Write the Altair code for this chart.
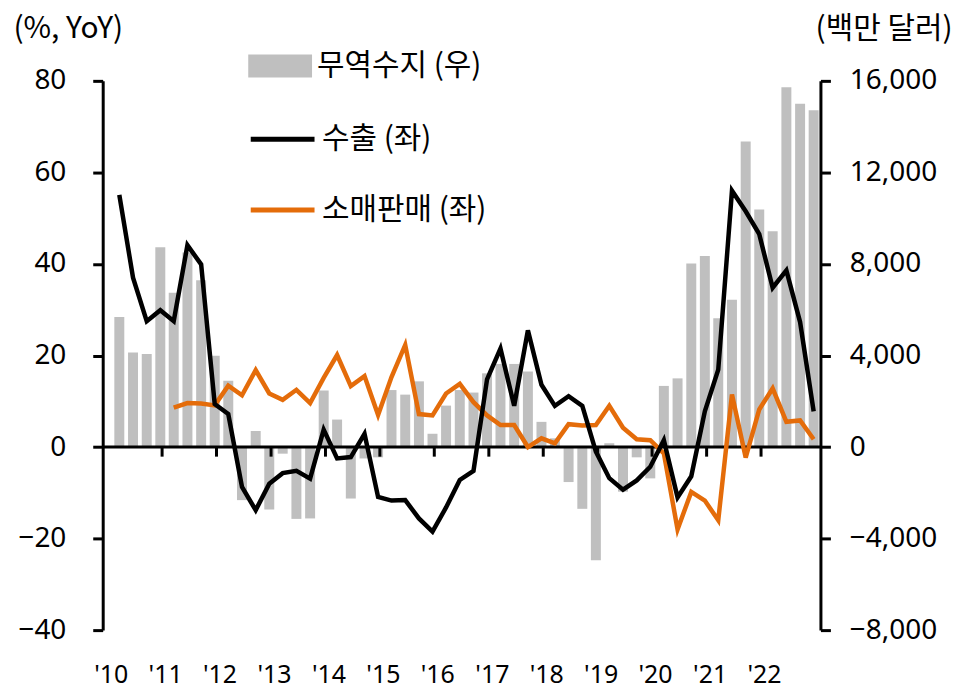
import altair as alt
import pandas as pd

# Quarterly data, 2010Q1 - 2022Q4
quarters = [f"{y}Q{q}" for y in range(2010, 2023) for q in range(1, 5)]

exports = [55.1, 37.0, 27.5, 29.9, 27.5, 44.1, 39.9, 9.4,
           7.2, -8.7, -13.8, -8.0, -5.7, -5.2, -6.9, 3.8,
           -2.5, -2.2, 2.9, -10.9, -11.7, -11.6, -15.6, -18.5,
           -13.2, -7.2, -5.2, 14.8, 21.5, 9.0, 25.5, 13.6,
           9.0, 11.1, 9.0, -1.0, -6.8, -9.3, -7.3, -4.3,
           1.5, -11.0, -6.4, 7.8, 16.9, 56.0, 51.5, 46.5,
           34.8, 38.6, 27.3, 7.8]

retail = [None, None, None, None, 8.6, 9.6, 9.5, 9.1,
          13.4, 11.3, 16.8, 11.7, 10.3, 12.5, 9.6, 15.1,
          20.1, 13.3, 15.5, 7.0, 15.3, 22.3, 7.2, 6.9,
          11.7, 13.8, 9.8, 6.9, 4.8, 4.8, 0.0, 1.9,
          0.8, 5.0, 4.7, 4.8, 9.0, 4.2, 1.7, 1.5,
          -1.4, -18.0, -9.8, -11.7, -16.0, 11.5, -2.3, 8.2,
          12.8, 5.5, 5.8, 1.7]

trade_balance = [5680, 4130, 4060, 8730, 6740, 8500, 7290, 3990,
                 2900, -2320, 700, -2730, -290, -3140, -3120, 2470,
                 1200, -2250, -500, -450, 2490, 2290, 2870, 580,
                 1810, 2490, 2380, 3220, 3630, 3630, 3300, 1100,
                 380, -1530, -2700, -4950, 170, -1950, -450, -1370,
                 2670, 3000, 8020, 8350, 5630, 6430, 13350, 10380,
                 9430, 15720, 15000, 14720]

name_bar = "무역수지 (우)"
name_exp = "수출 (좌)"
name_ret = "소매판매 (좌)"
year_ticks = list(range(2011, 2023))
year_labels = list(range(2010, 2023))

FONT = "Noto Sans CJK KR"
NUM_FONT = "Noto Sans"
GRAY = "#BFBFBF"
ORANGE = "#E46C0A"


def q_date(q):
    y, n = int(q[:4]), int(q[-1])
    return f"{y}-{n * 3:02d}-20"


dates = [q_date(q) for q in quarters]

bar_df = pd.DataFrame({"date": dates, "value": trade_balance, "name": name_bar})
exp_df = pd.DataFrame({"date": dates, "value": exports, "series": name_exp})
ret_df = pd.DataFrame({"date": dates, "value": retail, "series": name_ret}).dropna()
tick_df = pd.DataFrame({"date": [f"{y}-01-01" for y in year_ticks]})
zero_df = pd.DataFrame({"v": [0]})

x_axis = alt.Axis(
    values=[alt.DateTime(year=y, month=1, date=1, utc=True) for y in year_labels],
    labelExpr="\"'\" + utcFormat(datum.value, '%y')",
    domain=False, ticks=False, grid=False,
    labelFont=NUM_FONT, labelFontSize=25, labelColor="black", labelPadding=33,
    labelOffset=3, labelFlush=False, labelOverlap=False, title=None,
)
x_scale = alt.Scale(type="utc",
                    domain=[alt.DateTime(year=2010, month=1, date=1, utc=True),
                            alt.DateTime(year=2023, month=1, date=1, utc=True)])
X = alt.X("date:T", scale=x_scale, axis=x_axis)

left_scale = alt.Scale(domain=[-40, 80], nice=False, zero=False)
right_scale = alt.Scale(domain=[-8000, 16000], nice=False, zero=False)

bars = alt.Chart(bar_df).mark_bar(size=10).encode(
    x=X,
    y=alt.Y("value:Q", scale=right_scale,
            axis=alt.Axis(orient="right", values=list(range(-8000, 16001, 4000)),
                          labelExpr="format(datum.value, ',')",
                          grid=False, domainColor="black", domainWidth=3,
                          tickColor="black", tickWidth=3, tickSize=10,
                          labelFont=NUM_FONT, labelFontSize=28, labelColor="black",
                          labelPadding=19, title="(백만 달러)", titleAngle=0,
                          titleAlign="right", titleBaseline="middle", titleX=132,
                          titleY=-52, titleFont=FONT, titleFontSize=30,
                          titleFontWeight="normal", titleColor="black")),
    fill=alt.Fill("name:N", scale=alt.Scale(domain=[name_bar], range=[GRAY]),
                  legend=alt.Legend(orient="none", legendX=146, legendY=-47, title=None,
                                    symbolType="M-1,-0.36H1V0.36H-1Z", symbolSize=4096,
                                    symbolStrokeWidth=0, padding=0, labelOffset=5,
                                    labelFont=FONT, labelFontSize=30, labelColor="black",
                                    labelLimit=0)),
)

zero_rule = alt.Chart(zero_df).mark_rule(color="black", strokeWidth=3).encode(
    y=alt.Y("v:Q", scale=left_scale, axis=None)
)

year_tick_marks = alt.Chart(tick_df).mark_rule(color="black", strokeWidth=3).encode(
    x=X,
    y=alt.datum(0, scale=left_scale, axis=None),
    y2=alt.datum(-2.1),
)

stroke_enc = alt.Stroke(
    "series:N",
    scale=alt.Scale(domain=[name_exp, name_ret], range=["black", ORANGE]),
    legend=alt.Legend(orient="none", legendX=146, legendY=24, title=None,
                      symbolType="stroke", symbolSize=4096, symbolStrokeWidth=5,
                      padding=0, rowPadding=21, labelOffset=5, labelFont=FONT,
                      labelFontSize=30, labelColor="black", labelLimit=0),
)

left_axis = alt.Axis(orient="left", values=list(range(-40, 81, 20)), grid=False,
                     labelExpr="format(datum.value, 'd')",
                     domainColor="black", domainWidth=3, tickColor="black",
                     tickWidth=3, tickSize=10, labelFont=NUM_FONT, labelFontSize=28,
                     labelColor="black", labelPadding=27, title="(%, YoY)",
                     titleAngle=0, titleAlign="left", titleBaseline="middle",
                     titleX=-90, titleY=-52, titleFont=FONT, titleFontSize=30,
                     titleFontWeight="normal", titleColor="black")

ret_line = alt.Chart(ret_df).mark_line(strokeWidth=4.5).encode(
    x=X, y=alt.Y("value:Q", scale=left_scale, axis=None), stroke=stroke_enc
)
exp_line = alt.Chart(exp_df).mark_line(strokeWidth=4.5).encode(
    x=X, y=alt.Y("value:Q", scale=left_scale, axis=left_axis), stroke=stroke_enc
)

chart = alt.layer(bars, zero_rule, year_tick_marks, ret_line, exp_line).resolve_scale(
    y="independent"
).properties(
    width=720, height=551
).configure(font=FONT).configure_view(stroke=None)

chart.save("out.html", embed_options={"renderer": "svg", "actions": False})
